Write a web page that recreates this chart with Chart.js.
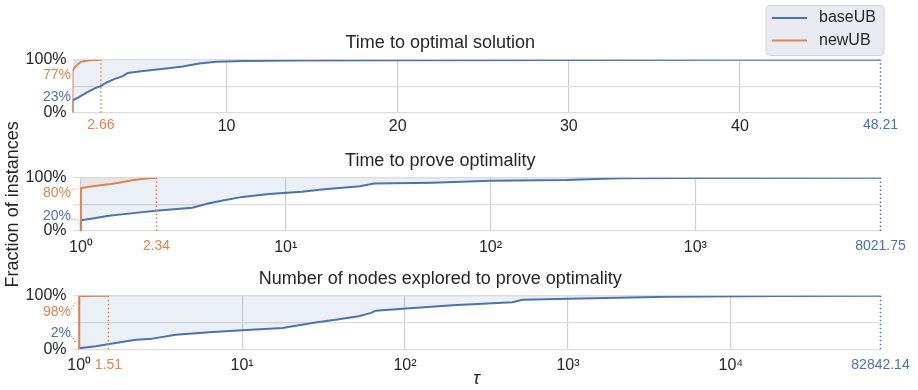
<!DOCTYPE html>
<html>
<head>
<meta charset="utf-8">
<script src="https://cdn.jsdelivr.net/npm/chart.js@4.4.1/dist/chart.umd.min.js"></script>
<style>
  body { margin: 0; background: #fff; }
  #quadro { position: relative; width: 918px; height: 390px; }
  #quadro canvas { position: absolute; left: 0; top: 0; }
</style>
</head>
<body>
<div id="quadro">
  <canvas id="graficoSolucao" width="918" height="390"></canvas>
  <canvas id="graficoProva" width="918" height="390"></canvas>
  <canvas id="graficoNos" width="918" height="390"></canvas>
</div>
<script>
// nomes das duas séries e títulos de cada painel
const nomes = ['baseUB', 'newUB'];
const titulos = ['Time to optimal solution', 'Time to prove optimality', 'Number of nodes explored to prove optimality'];
const tituloY = 'Fraction of instances';
const tituloX = 'τ';

// perfis de desempenho: pares [tau, % de instâncias]
const baseSolucao = [[1, 0], [1, 23], [1.4, 30], [1.87, 39], [2.3, 46], [2.65, 50], [3.0, 57], [3.4, 63], [3.94, 69], [4.23, 75], [5.0, 78], [5.8, 81], [6.6, 84], [7.44, 87], [8.4, 93], [9.4, 96], [11, 97.6], [14, 98.4], [20, 99], [30, 99.5], [40, 99.8], [48.21, 100]];
const newSolucao = [[1, 0], [1, 77], [1.05, 82], [1.17, 87], [1.3, 91], [1.5, 96], [1.8, 98], [2.2, 99.3], [2.66, 100]];

const baseProva = [[1, 0], [1, 20], [1.14, 23.5], [1.37, 28.5], [1.85, 34], [2.32, 38], [3.5, 43.5], [4.22, 52], [5.09, 58], [6.14, 64], [8.3, 69.5], [12, 73.5], [15, 78], [23, 84], [27, 89], [52, 90.6], [100, 94.4], [235, 95.7], [425, 98.8], [1000, 99.6], [8021.75, 100]];
const newProva = [[1, 0], [1, 80], [1.094, 83], [1.25, 86], [1.4, 88], [1.53, 90.5], [1.81, 95.5], [1.99, 97.5], [2.34, 100]];

const baseNos = [[1, 0], [1, 2], [1.27, 5.6], [1.53, 10], [2.23, 18], [2.7, 19], [3.92, 27], [6.28, 31.7], [10, 35.4], [17.7, 39.7], [28.2, 50], [37.4, 55], [52, 61.6], [62, 68], [66, 72], [97, 75.7], [196, 82], [455, 88], [526, 92.5], [1010, 94.4], [4160, 98], [20000, 99.5], [82842.14, 100]];
const newNos = [[1, 0], [1, 98], [1.02, 99.6], [1.51, 100]];

// marcas do eixo x de cada painel
const ticksSolucao = [10, 20, 30, 40];
const ticksProva = [1, 10, 100, 1000];
const ticksNos = [1, 10, 100, 1000, 10000];

const azul = '#4c72b0';
const laranja = '#dd8452';
const texto = '#262626';
const fonte = "'Liberation Sans', Arial, sans-serif";

// converte o expoente em algarismos sobrescritos (10⁰, 10¹...)
function sobrescrito(n) {
  const s = '⁰¹²³⁴⁵⁶⁷⁸⁹';
  return String(n).split('').map((d) => s[d]).join('');
}

// transforma os pares [x, y] em pontos do Chart.js
function pontos(serie) {
  return serie.map((p) => ({ x: p[0], y: p[1] }));
}

// valor da marca no contexto do Chart.js (nem sempre existe)
function valorTick(c) {
  return c && c.tick ? c.tick.value : null;
}

// legenda no canto superior direito, desenhada a partir dos datasets
const legenda = {
  id: 'legendaCaixa',
  afterDraw(chart) {
    const { ctx, chartArea } = chart;
    const direita = chartArea.right + 3.5;
    const esquerda = direita - 118;
    ctx.save();
    ctx.fillStyle = '#eaeaf2';
    ctx.strokeStyle = '#d2d2da';
    ctx.lineWidth = 1;
    ctx.beginPath();
    ctx.roundRect(esquerda, 5.5, 118, 50, 4);
    ctx.fill();
    ctx.stroke();
    chart.data.datasets.slice(0, 2).forEach((ds, i) => {
      const y = 18 + i * 22.5;
      ctx.strokeStyle = ds.borderColor;
      ctx.lineWidth = 2;
      ctx.beginPath();
      ctx.moveTo(esquerda + 6, y);
      ctx.lineTo(esquerda + 41, y);
      ctx.stroke();
      ctx.fillStyle = texto;
      ctx.font = '16px ' + fonte;
      ctx.textBaseline = 'middle';
      ctx.fillText(ds.label, esquerda + 53, y);
    });
    ctx.restore();
  }
};

// cria um painel do perfil de desempenho
function criaGrafico(canvas, cfg) {
  const fimBase = cfg.base[cfg.base.length - 1][0];
  const fimNovo = cfg.novo[cfg.novo.length - 1][0];
  const destaque = [fimNovo, fimBase];
  const valoresX = cfg.ticks.concat(destaque).sort((a, b) => a - b);

  // rótulos coloridos com o valor inicial de cada série (em tau = 1)
  const rotulosInicio = {
    id: 'rotulosInicio',
    afterDraw(chart) {
      const { ctx, chartArea, scales } = chart;
      const xInicio = scales.x.getPixelForValue(1);
      [[cfg.base, azul, cfg.deslocBase], [cfg.novo, laranja, cfg.deslocNovo]].forEach(([serie, cor, desloc]) => {
        const valor = serie[1][1];
        const yPonto = scales.y.getPixelForValue(valor);
        const yTexto = yPonto + desloc;
        ctx.save();
        ctx.font = '14px ' + fonte;
        ctx.fillStyle = cor;
        ctx.textAlign = 'right';
        ctx.textBaseline = 'middle';
        ctx.fillText(valor + '%', chartArea.left - 1.5, yTexto);
        if (cfg.ligacao) {
          const x0 = chartArea.left - 1;
          const y0 = yTexto - Math.sign(desloc) * 3;
          const x1 = xInicio - 3;
          const y1 = y0 + (yPonto - y0) * (x1 - x0) / (xInicio - x0);
          ctx.strokeStyle = cor;
          ctx.lineWidth = 1.2;
          ctx.setLineDash([1, 2]);
          ctx.beginPath();
          ctx.moveTo(x0, y0);
          ctx.lineTo(x1, y1);
          ctx.stroke();
        }
        ctx.restore();
      });
    }
  };

  const extras = [rotulosInicio];
  if (cfg.legenda) extras.push(legenda);

  return new Chart(canvas, {
    type: 'line',
    data: {
      datasets: [
        { label: nomes[0], data: pontos(cfg.base), borderColor: azul, borderWidth: 2, pointRadius: 0, fill: 'end', backgroundColor: 'rgba(76,114,176,0.11)', order: 3 },
        { label: nomes[1], data: pontos(cfg.novo), borderColor: laranja, borderWidth: 2, pointRadius: 0, fill: 'end', backgroundColor: 'rgba(221,132,82,0.10)', order: 2 },
        { data: [{ x: fimNovo, y: 0 }, { x: fimNovo, y: 100 }], borderColor: laranja, borderWidth: 1.5, borderDash: [1.5, 2.5], pointRadius: 0, fill: false, clip: false, order: 1 },
        { data: [{ x: fimBase, y: 0 }, { x: fimBase, y: 100 }], borderColor: azul, borderWidth: 1.5, borderDash: [1.5, 2.5], pointRadius: 0, fill: false, clip: false, order: 1 }
      ]
    },
    options: {
      responsive: false,
      animation: false,
      layout: { padding: { top: cfg.topo, bottom: cfg.baixo, left: 0, right: 37.5 } },
      plugins: {
        legend: { display: false },
        tooltip: { enabled: false },
        title: {
          display: true,
          text: cfg.titulo,
          color: texto,
          font: { family: fonte, size: 18, weight: 'normal' },
          padding: { top: 0, bottom: 6 }
        }
      },
      scales: {
        x: {
          type: cfg.log ? 'logarithmic' : 'linear',
          bounds: 'data',
          min: cfg.min,
          max: fimBase,
          afterBuildTicks: (s) => { s.ticks = valoresX.map((v) => ({ value: v })); },
          afterFit: (s) => { s.height = cfg.alturaX; },
          grid: {
            color: (c) => destaque.includes(valorTick(c)) ? 'rgba(0,0,0,0)' : '#cfcfcf',
            lineWidth: 1.2,
            drawTicks: false
          },
          border: { display: false },
          ticks: {
            autoSkip: false,
            maxRotation: 0,
            padding: cfg.log ? 7 : 4,
            color: (c) => valorTick(c) === fimNovo ? laranja : (valorTick(c) === fimBase ? azul : texto),
            font: (c) => ({ family: fonte, size: destaque.includes(valorTick(c)) ? 14 : 16 }),
            callback: (v) => {
              if (destaque.includes(v)) return String(v);
              return cfg.log ? '10' + sobrescrito(Math.round(Math.log10(v))) : String(v);
            }
          },
          title: {
            display: !!cfg.tituloX,
            text: cfg.tituloX || '',
            color: texto,
            font: { family: fonte, size: 18, style: 'italic' },
            padding: 0
          }
        },
        y: {
          min: 0,
          max: 100,
          afterBuildTicks: (s) => { s.ticks = [0, 50, 100].map((v) => ({ value: v })); },
          afterFit: (s) => { s.width = 72.5; },
          grid: { color: '#dddddd', lineWidth: 1.2, drawTicks: false },
          border: { display: false },
          ticks: {
            padding: 6,
            color: texto,
            font: { family: fonte, size: 16 },
            callback: (v) => v === 50 ? '' : v + '%'
          },
          title: {
            display: !!cfg.tituloY,
            text: cfg.tituloY || '',
            color: texto,
            font: { family: fonte, size: 18 },
            padding: { top: 2, bottom: 0 }
          }
        }
      }
    },
    plugins: extras
  });
}

const graficoSolucao = criaGrafico(document.getElementById('graficoSolucao'), {
  titulo: titulos[0], base: baseSolucao, novo: newSolucao, ticks: ticksSolucao,
  log: false, min: 1, topo: 32.1, baixo: 247.3, alturaX: 30,
  deslocNovo: 3, deslocBase: -3.5, ligacao: false, legenda: true
});

const graficoProva = criaGrafico(document.getElementById('graficoProva'), {
  titulo: titulos[1], base: baseProva, novo: newProva, ticks: ticksProva,
  log: true, min: 0.91, topo: 150.1, baixo: 129, alturaX: 30,
  deslocNovo: 4.3, deslocBase: -4.3, ligacao: true, tituloY: tituloY
});

const graficoNos = criaGrafico(document.getElementById('graficoNos'), {
  titulo: titulos[2], base: baseNos, novo: newNos, ticks: ticksNos,
  log: true, min: 0.91, topo: 268.1, baixo: 0, alturaX: 40.7,
  deslocNovo: 15, deslocBase: -15.5, ligacao: true, tituloX: tituloX
});
</script>
</body>
</html>
